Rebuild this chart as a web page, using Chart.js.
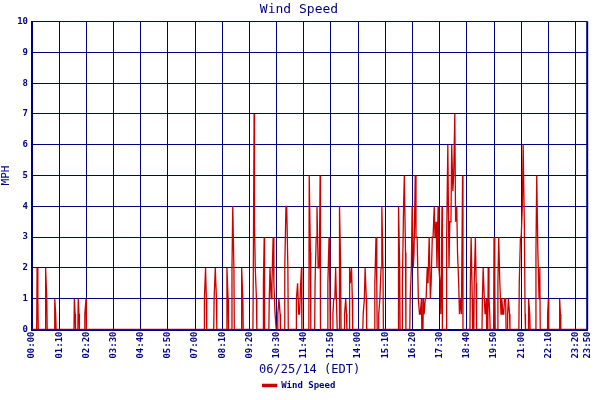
<!DOCTYPE html>
<html>
<head>
<meta charset="utf-8">
<script src="https://cdn.jsdelivr.net/npm/chart.js@4"></script>
<style>
  body { margin: 0; background: #fff; }
</style>
</head>
<body>
<canvas id="c" width="600" height="400"></canvas>
<script>
// leituras (minutos desde 00:00, mph) – só os valores não nulos
const times = [13,15, 35,38, 58,59,61, 109,111, 119,121, 136,139,
  444,447,449, 469,472,475, 502,505, 515,517,520, 540,543,
  570,572,573,575,578, 596,598, 611,613,616,618,621,623,626,628,633,636,639,
  651,654,656,659, 681,684,687,689,692,694, 714,717,
  729,732,734,737,740,742, 762,765,767, 775,777,780,782,785,792,795,
  805,808,810,818,820,823,825, 853,856,858,861,
  883,886,888,893,896,899,901,904, 944,947, 954,957,959,962,
  974,977,979,982,984,987,989,992,
  995,998,1000,1003,1008,1010,1013,1015,1018,1020,1023,1026,1028,1031,1033,1036,1038,1041,1043,1046,1048,1051,1053,1056,
  1068,1071,1074,1076,1079,1081,1084,1086,1089,1091,1094,1096,1099,1101,1104,1106,1109,
  1129,1131,1134,1139,1142,1144,
  1160,1162,1165,1167,1170,1175,1177,1179,1190,1192,
  1200,1202,1205,1208,1210,1213,1215,1217,1220,1225,1227,1230,
  1255,1258,1260,1263,1265,1268,1270,1279,1282,
  1298,1300,1303,1306,1308,1328,1330, 1359,1361];
const speeds = [2,1, 2,1, 0.5,1,0.5, 1,0.5, 1,0.5, 0.5,1,
  1,2,1, 1,2,1, 2,1, 2,4,2, 2,1,
  2,7,3.5,2,1, 1.5,3, 1,2,1,1.5,3,1.5,0.5,0.5,0.5,1,0.5,
  2,4,4,2, 1,1.5,0.5,0.5,1.5,2, 5,2.5,
  1.5,3,4,2,2,5, 1.5,3,1.5, 0.5,1,1,2,0.5,4,2,
  0.5,1,0.5,2,1.5,2,1, 0.5,1,2,1,
  1.5,3,1.5,0.5,1,2,4,2, 4,2, 1.5,4,5,2.5,
  1,2,4,2,2.5,5,3,3,
  1,0.5,0.5,1,1,0.5,1,1,2,1.5,3,1,1.5,3,3,4,3,3.5,2,4,2,1.5,0.5,4,
  3,6,2,3.5,3.5,6,4.5,5,7,3.5,4,2.5,1.5,0.5,1,0.5,5,
  1.5,3,1,1.5,3,1.5,
  1,2,1,0.5,1,2,1,0.5,3,1.5,
  1.5,3,1.5,0.5,1,0.5,0.5,1,1,0.5,1,0.5,
  1.5,3,3,4,6,3.5,0.5,1,0.5,
  2.5,5,2.5,1,2,0.5,1, 1,0.5];
const tickMinutes = [0,70,140,210,280,350,420,490,560,630,700,770,840,910,980,1050,1120,1190,1260,1330,1400,1430];
const yTicks = [0,1,2,3,4,5,6,7,8,9,10];

// série com linha de base zero entre as rajadas
const series = [{x: 0, y: 0}];
times.forEach((t, i) => {
  const prev = i > 0 ? times[i-1] : -10;
  if (t - prev > 3) series.push({x: t - 1, y: 0});
  series.push({x: t, y: speeds[i]});
  const next = i < times.length - 1 ? times[i+1] : 9999;
  if (next - t > 3) series.push({x: t + 1, y: 0});
});
series.push({x: 1430, y: 0});

const navy = "#000080";
const fmt = m => String(Math.floor(m/60)).padStart(2,"0") + ":" + String(m%60).padStart(2,"0");
const mono = "'DejaVu Sans Mono', monospace";

new Chart(document.getElementById("c"), {
  type: "line",
  data: { datasets: [{ label: "Wind Speed", data: series, borderColor: "#cc0000", backgroundColor: "#cc0000",
    borderWidth: 1.3, pointRadius: 0, tension: 0 }] },
  options: {
    responsive: false, animation: false, devicePixelRatio: 1,
    layout: { padding: { right: 2, top: 0, left: 0 } },
    scales: {
      x: {
        type: "linear", min: 0, max: 1430,
        afterBuildTicks: s => { s.ticks = tickMinutes.map(v => ({ value: v })); },
        ticks: { callback: v => fmt(v), color: navy, maxRotation: 90, minRotation: 90, autoSkip: false,
          font: { family: mono, size: 9, weight: "bold" }, padding: 2 },
        grid: { color: navy, lineWidth: 1, drawTicks: false },
        border: { color: navy, width: 2 },
        title: { display: true, text: "06/25/14 (EDT)", color: navy, font: { family: mono, size: 12 }, padding: { top: 2, bottom: 0 } }
      },
      y: {
        min: 0, max: 10,
        afterBuildTicks: s => { s.ticks = yTicks.map(v => ({ value: v })); },
        ticks: { color: navy, autoSkip: false, font: { family: mono, size: 9, weight: "bold" }, padding: 4 },
        grid: { color: navy, lineWidth: 1, drawTicks: false },
        border: { color: navy, width: 2 },
        title: { display: true, text: "MPH", color: navy, font: { family: mono, size: 11 }, padding: 0 }
      }
    },
    plugins: {
      title: { display: true, text: "Wind Speed", color: navy, font: { family: mono, size: 13, weight: "normal" }, padding: { top: 2, bottom: 4 } },
      legend: { position: "bottom", labels: { boxWidth: 14, boxHeight: 2, color: navy, padding: 4,
        font: { family: mono, size: 9, weight: "bold" } } }
    }
  },
  plugins: [{
    id: "rightBorder",
    afterDraw(chart) {
      const { ctx, chartArea: a } = chart;
      ctx.save(); ctx.strokeStyle = navy; ctx.lineWidth = 2;
      ctx.beginPath(); ctx.moveTo(a.right, a.top); ctx.lineTo(a.right, a.bottom); ctx.stroke();
      ctx.restore();
    }
  }]
});
</script>
</body>
</html>
